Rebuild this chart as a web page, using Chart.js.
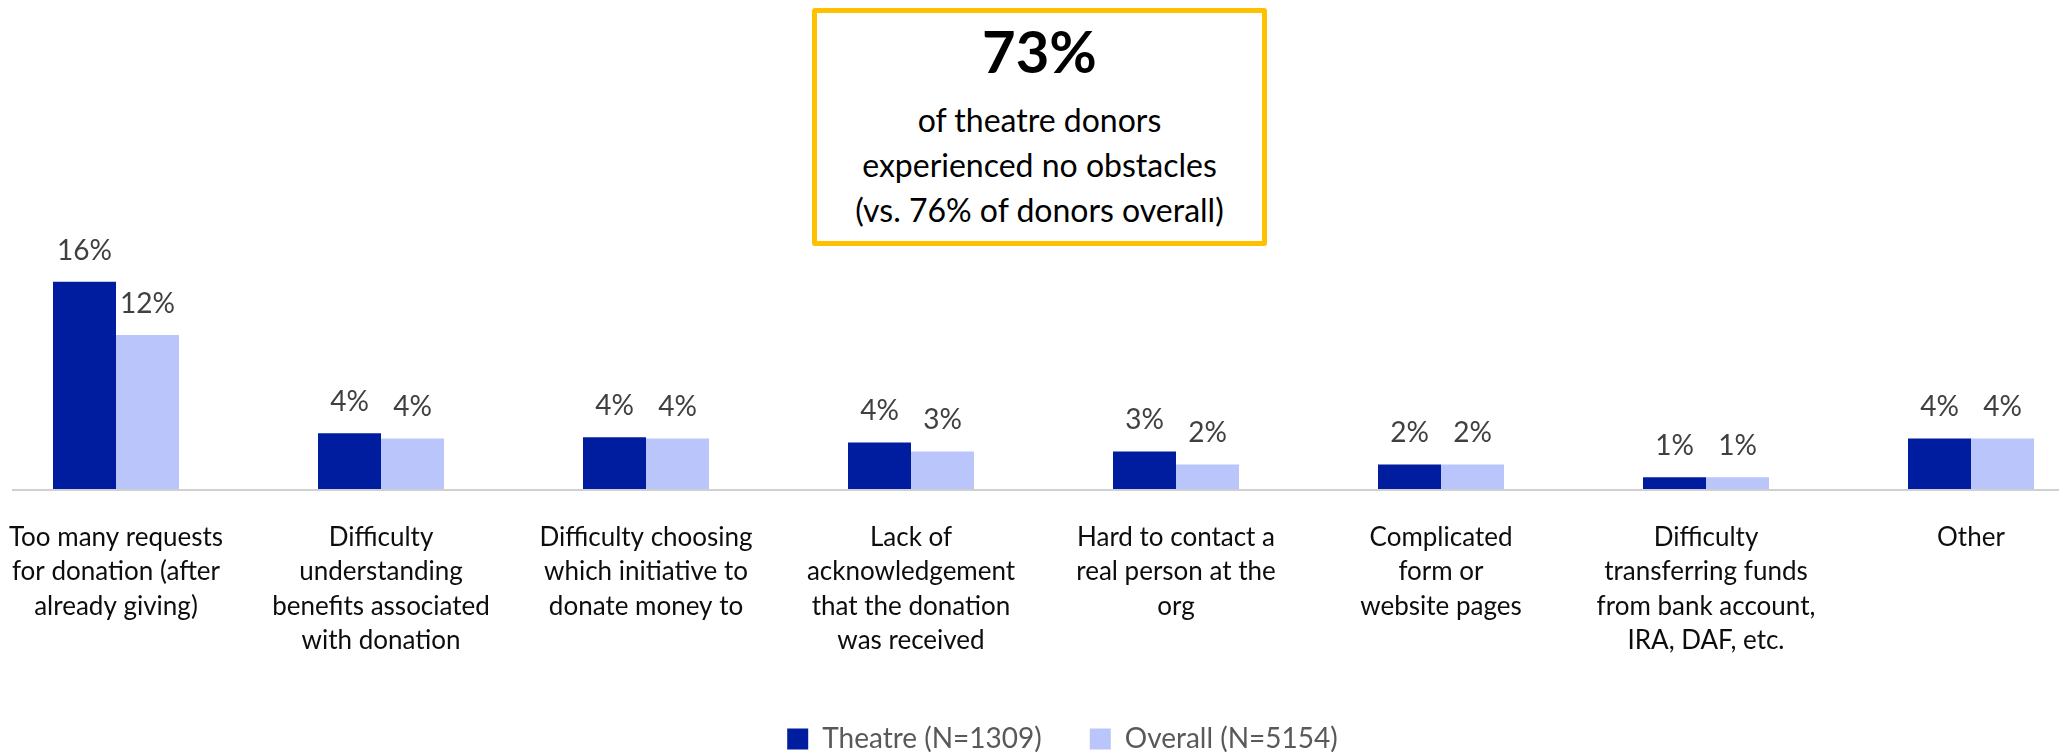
<!DOCTYPE html>
<html>
<head>
<meta charset="utf-8">
<script src="https://cdn.jsdelivr.net/npm/chart.js@4/dist/chart.umd.min.js"></script>
<style>
  html, body { margin: 0; padding: 0; background: #fff; }
  #wrap { position: relative; width: 2059px; height: 753px; }
  #callout {
    position: absolute; left: 812px; top: 8px; width: 455px; height: 238px;
    box-sizing: border-box; border: 5px solid #FFC000; border-radius: 3px;
    background: #fff; text-align: center; font-family: Lato, sans-serif; color: #000;
  }
  #callout .big { font-size: 58px; font-weight: 700; line-height: 76px; }
  #callout .sub { font-size: 32px; line-height: 45px; }
</style>
</head>
<body>
<div id="wrap">
  <canvas id="chart" width="2059" height="753"></canvas>
  <div id="callout">
    <div class="big">73%</div>
    <div class="sub" style="margin-top:8px">of theatre donors<br>experienced no obstacles<br>(vs. 76% of donors overall)</div>
  </div>
</div>
<script>
var ctx = document.getElementById('chart').getContext('2d')

// categories (wrapped the way they appear under the axis)
const categories = [
  ['Too many requests', 'for donation (after', 'already giving)'],
  ['Difficulty', 'understanding', 'benefits associated', 'with donation'],
  ['Difficulty choosing', 'which initiative to', 'donate money to'],
  ['Lack of', 'acknowledgement', 'that the donation', 'was received'],
  ['Hard to contact a', 'real person at the', 'org'],
  ['Complicated', 'form or', 'website pages'],
  ['Difficulty', 'transferring funds', 'from bank account,', 'IRA, DAF, etc.'],
  ['Other'],
]

// percent of donors
const theatre = [16.0, 4.3, 4.0, 3.6, 2.9, 1.9, 0.9, 3.9]
const overall = [11.9, 3.9, 3.9, 2.9, 1.9, 1.9, 0.9, 3.9]

const seriesNames = ['Theatre (N=1309)', 'Overall (N=5154)']

// grey baseline running across the whole width
const baseline = {
  id: 'baseline',
  beforeDatasetsDraw(chart) {
    const y = chart.scales.y.getPixelForValue(0)
    const c = chart.ctx
    c.save()
    c.strokeStyle = '#d0d0d0'
    c.lineWidth = 2
    c.beginPath()
    c.moveTo(12, y + 1)
    c.lineTo(chart.width, y + 1)
    c.stroke()
    c.restore()
  },
}

// value labels above every bar
const valueLabels = {
  id: 'valueLabels',
  afterDatasetsDraw(chart) {
    const c = chart.ctx
    c.save()
    c.font = '28px Lato'
    c.fillStyle = '#404040'
    c.textAlign = 'center'
    c.textBaseline = 'alphabetic'
    chart.data.datasets.forEach((ds, i) => {
      chart.getDatasetMeta(i).data.forEach((bar, j) => {
        c.fillText(Math.round(ds.data[j]) + '%', bar.x, bar.y - 22)
      })
    })
    c.restore()
  },
}

// nudge the legend to where it sits in the original
const legendNudge = {
  id: 'legendNudge',
  afterLayout(chart) {
    const lg = chart.legend
    lg.left += 19
    lg.right += 19
    lg.top += 10
    lg.bottom += 10
  },
}

const chart = new Chart(ctx, {
  type: 'bar',
  data: {
    labels: categories,
    datasets: [
      {
        label: seriesNames[0],
        data: theatre,
        backgroundColor: '#001d9f',
        borderWidth: 0,
        categoryPercentage: 0.4755,
        barPercentage: 1.0,
        clip: false,
      },
      {
        label: seriesNames[1],
        data: overall,
        backgroundColor: '#bac5fc',
        borderWidth: 0,
        categoryPercentage: 0.4755,
        barPercentage: 1.0,
        clip: false,
      },
    ],
  },
  options: {
    responsive: false,
    animation: false,
    layout: {
      padding: { left: 116, right: 88, top: 230, bottom: 0 },
    },
    plugins: {
      tooltip: { enabled: false },
      legend: {
        position: 'bottom',
        labels: {
          boxWidth: 21,
          boxHeight: 21,
          padding: 48,
          color: '#595959',
          font: { family: 'Lato', size: 28 },
        },
      },
    },
    scales: {
      x: {
        offset: false,
        grid: { display: false },
        border: { display: false },
        ticks: {
          color: '#0d0d0d',
          padding: 23,
          autoSkip: false,
          maxRotation: 0,
          font: { family: 'Lato', size: 26, lineHeight: 34.5 / 26 },
        },
        afterFit(scale) {
          // labels may hang past the plot edges, like the original
          scale.height = 178
          scale.paddingLeft = 0
          scale.paddingRight = 0
        },
      },
      y: {
        display: false,
        min: 0,
        max: 20,
      },
    },
  },
  plugins: [baseline, valueLabels, legendNudge],
})
</script>
</body>
</html>
